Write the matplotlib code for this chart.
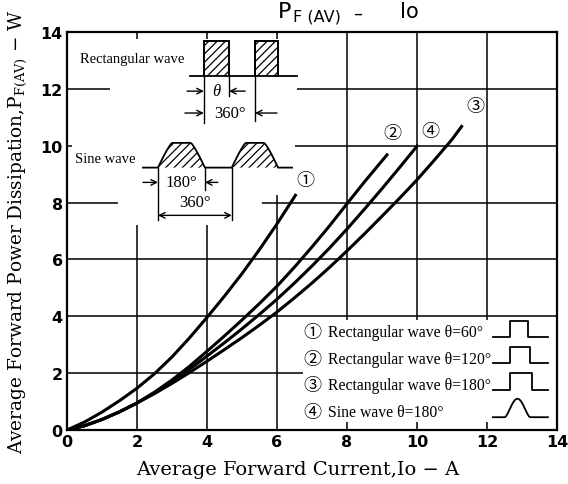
import matplotlib
matplotlib.use('Agg')
import matplotlib.pyplot as plt
import numpy as np
from matplotlib.patches import Rectangle, Polygon

# Curve data (Io in A, P in W)
io_1 = [0, 0.5, 1, 1.5, 2, 2.5, 3, 3.5, 4, 4.5, 5, 5.5, 6, 6.55]
pf_1 = [0, 0.28, 0.63, 1.03, 1.47, 1.98, 2.57, 3.24, 3.96, 4.71, 5.5, 6.35, 7.25, 8.3]

io_2 = [0, 0.5, 1, 1.5, 2, 2.5, 3, 3.5, 4, 4.5, 5, 5.5, 6, 6.5, 7, 7.5, 8, 8.5, 9.17]
pf_2 = [0, 0.15, 0.37, 0.64, 0.95, 1.33, 1.76, 2.24, 2.77, 3.31, 3.87, 4.45, 5.06,
        5.73, 6.44, 7.18, 7.96, 8.73, 9.72]

io_3 = [0, 0.5, 1, 1.5, 2, 2.5, 3, 3.5, 4, 4.5, 5, 5.5, 6, 6.5, 7, 7.5, 8, 8.5, 9,
        9.5, 10, 10.5, 11, 11.3]
pf_3 = [0, 0.15, 0.37, 0.64, 0.95, 1.28, 1.64, 2.02, 2.42, 2.83, 3.25, 3.69, 4.15,
        4.65, 5.17, 5.72, 6.3, 6.9, 7.52, 8.15, 8.8, 9.5, 10.22, 10.72]

io_4 = [0, 0.5, 1, 1.5, 2, 2.5, 3, 3.5, 4, 4.5, 5, 5.5, 6, 6.5, 7, 7.5, 8, 8.5, 9,
        9.5, 10.03]
pf_4 = [0, 0.15, 0.37, 0.64, 0.95, 1.31, 1.71, 2.14, 2.6, 3.07, 3.56, 4.07, 4.6,
        5.17, 5.77, 6.4, 7.07, 7.77, 8.49, 9.23, 10.03]

curve_labels = ['\u2460', '\u2461', '\u2462', '\u2463']
label_pos = [(6.8, 8.78), (9.31, 10.45), (11.66, 11.4), (10.37, 10.52)]

legend_texts = ['Rectangular wave \u03b8=60\u00b0',
                'Rectangular wave \u03b8=120\u00b0',
                'Rectangular wave \u03b8=180\u00b0',
                'Sine wave \u03b8=180\u00b0']
pulse_ends = [13.17, 13.23, 13.29]

xticks = np.arange(0, 15, 2)
yticks = np.arange(0, 15, 2)

serif = ['Liberation Serif', 'DejaVu Serif']
circ = ['Noto Sans CJK JP', 'DejaVu Sans']
plt.rcParams['hatch.linewidth'] = 0.9
plt.rcParams['mathtext.fontset'] = 'dejavuserif'

fig = plt.figure(figsize=(5.68, 4.85), dpi=100)
ax = fig.add_axes([67/568, 54/485, 490/568, 398/485])
ax.set_xlim(0, 14)
ax.set_ylim(0, 14)

# grid
for v in xticks[1:-1]:
    ax.axvline(v, color='black', lw=1.1, zorder=1)
for v in yticks[1:-1]:
    ax.axhline(v, color='black', lw=1.1, zorder=1)

# white areas where the drawings sit
for (x0, y0, w, h) in [(1.23, 10.7, 5.34, 3.05), (0.14, 8.25, 6.37, 2.45),
                       (1.46, 7.2, 4.1, 1.05), (6.74, 0.28, 7.23, 3.6)]:
    ax.add_patch(Rectangle((x0, y0), w, h, facecolor='white', edgecolor='none', zorder=2))

# curves
for xs, ys in [(io_1, pf_1), (io_2, pf_2), (io_3, pf_3), (io_4, pf_4)]:
    ax.plot(xs, ys, color='black', lw=2.2, zorder=4, solid_capstyle='butt')

for lab, (x, y) in zip(curve_labels, label_pos):
    ax.text(x, y, lab, fontsize=13, family=circ, ha='center', va='center', zorder=5)

# ---- rectangular wave sketch ----
ax.text(0.37, 13.08, 'Rectangular wave', family=serif, fontsize=10.5, va='center', zorder=5)
rb, rt = 12.45, 13.67
ax.plot([3.51, 3.91, 3.91, 4.63, 4.63, 5.37, 5.37, 6.03, 6.03, 6.57],
        [rb, rb, rt, rt, rb, rb, rt, rt, rb, rb], color='black', lw=1.3, zorder=5)
for x0, x1 in [(3.91, 4.63), (5.37, 6.03)]:
    ax.add_patch(Rectangle((x0, rb), x1 - x0, rt - rb, facecolor='white',
                           edgecolor='black', hatch='////', lw=1.3, zorder=4))
for x, ylo in [(3.91, 10.8), (4.63, 11.75), (5.37, 10.87)]:
    ax.plot([x, x], [rb, ylo], color='black', lw=1.0, zorder=5)
arr = dict(arrowstyle='->', color='black', lw=1.0, shrinkA=0, shrinkB=0)
ax.annotate('', xy=(3.91, 11.92), xytext=(3.43, 11.92), arrowprops=arr, zorder=5)
ax.annotate('', xy=(4.63, 11.92), xytext=(5.09, 11.92), arrowprops=arr, zorder=5)
ax.text(4.27, 11.92, '\u03b8', family=serif, style='italic', fontsize=12,
        ha='center', va='center', zorder=5)
ax.annotate('', xy=(3.91, 11.15), xytext=(3.37, 11.15), arrowprops=arr, zorder=5)
ax.annotate('', xy=(5.37, 11.15), xytext=(6.0, 11.15), arrowprops=arr, zorder=5)
ax.text(4.66, 11.15, '360\u00b0', family=serif, fontsize=12, ha='center', va='center', zorder=5)

# ---- sine wave sketch ----
ax.text(0.23, 9.55, 'Sine wave', family=serif, fontsize=10.5, va='center', zorder=5)
sb, sh = 9.23, 0.87
t = np.linspace(0, 1, 40)
bump = np.clip(1.25 * np.sin(np.pi * t), 0, 1)
sx = [2.17]
sy = [sb]
for x0, x1 in [(2.6, 3.94), (4.71, 6.03)]:
    bx = x0 + (x1 - x0) * t
    by = sb + sh * bump
    sx += list(bx)
    sy += list(by)
    ax.add_patch(Polygon(np.column_stack([bx, by]), closed=True, facecolor='white',
                         edgecolor='black', lw=0, hatch='////', zorder=4))
sx.append(6.43)
sy.append(sb)
ax.plot(sx, sy, color='black', lw=1.3, zorder=5)
for x, ylo in [(2.6, 7.38), (3.94, 8.43), (4.71, 7.38)]:
    ax.plot([x, x], [sb, ylo], color='black', lw=1.0, zorder=5)
ax.annotate('', xy=(2.6, 8.71), xytext=(2.17, 8.71), arrowprops=arr, zorder=5)
ax.annotate('', xy=(3.94, 8.71), xytext=(4.31, 8.71), arrowprops=arr, zorder=5)
ax.text(3.28, 8.71, '180\u00b0', family=serif, fontsize=12, ha='center', va='center', zorder=5)
ax.text(3.66, 8.02, '360\u00b0', family=serif, fontsize=12, ha='center', va='center', zorder=5)
ax.annotate('', xy=(2.6, 7.55), xytext=(4.71, 7.55),
            arrowprops=dict(arrowstyle='<->', color='black', lw=1.0, shrinkA=0, shrinkB=0), zorder=5)

# ---- legend ----
rows = [3.43, 2.5, 1.57, 0.65]
for lab, txt, y in zip(curve_labels, legend_texts, rows):
    ax.text(7.0, y, lab, family=circ, fontsize=13, ha='center', va='center', zorder=5)
    ax.text(7.45, y, txt, family=serif, fontsize=11.3, va='center', zorder=5)
for xe, y in zip(pulse_ends, rows[:3]):
    b, tp = y - 0.15, y + 0.42
    ax.plot([12.17, 12.66, 12.66, xe, xe, 13.74], [b, b, tp, tp, b, b],
            color='black', lw=1.3, zorder=5)
b = rows[3] - 0.2
lx = 12.51 + 0.72 * t
ax.plot([12.17] + list(lx) + [13.74], [b] + list(b + 0.65 * np.sin(np.pi * t) ** 1.5) + [b],
        color='black', lw=1.3, zorder=5)

# axes styling
for s in ax.spines.values():
    s.set_linewidth(1.6)
    s.set_zorder(6)
ax.set_xticks(xticks)
ax.set_yticks(yticks)
ax.tick_params(length=0, pad=3, labelsize=11.5)
for lab in ax.get_xticklabels() + ax.get_yticklabels():
    lab.set_fontweight('bold')

ax.set_xlabel('Average Forward Current,Io \u2212 A', family='DejaVu Serif',
              fontsize=14, labelpad=6)
ax.xaxis.set_label_coords(0.47, -0.075)
ax.set_ylabel('Average Forward Power Dissipation,P$_{\\mathrm{F(AV)}}$ \u2212 W',
              family='DejaVu Serif', fontsize=13.3, labelpad=8)

# title
fig.text(278/568, 1 - 12/485, 'P', fontsize=16, ha='left', va='center')
fig.text(293/568, 1 - 17/485, 'F (AV)', fontsize=11.5, ha='left', va='center')
fig.text(358/568, 1 - 14/485, '\u2013', fontsize=13, ha='center', va='center')
fig.text(400/568, 1 - 12/485, 'Io', fontsize=15, ha='left', va='center')

fig.savefig('out.png', dpi=100)
